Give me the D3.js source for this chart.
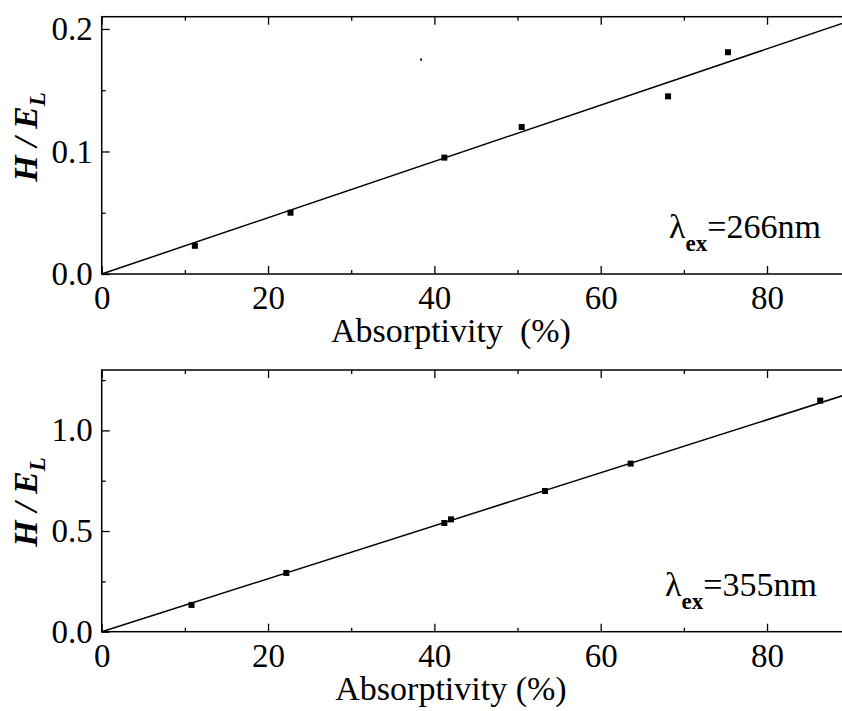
<!DOCTYPE html>
<html>
<head>
<meta charset="utf-8">
<script src="https://cdn.jsdelivr.net/npm/d3@7/dist/d3.min.js"></script>
<style>
  html, body { margin: 0; padding: 0; background: #fff; }
  svg { display: block; }
</style>
</head>
<body>
<svg id="chart" width="842" height="711"></svg>
<script>
// Absorptivity (%) vs. H/E_L for two excitation wavelengths
const absorb266 = [11.2, 22.7, 41.2, 50.5, 68.1, 75.3];
const ratio266  = [0.023, 0.050, 0.095, 0.120, 0.145, 0.181];
const stray266  = [[38.4, 0.175]];
const slope266  = 0.002297;

const absorb355 = [10.8, 22.2, 41.2, 42.0, 53.3, 63.6, 86.4];
const ratio355  = [0.133, 0.292, 0.540, 0.558, 0.699, 0.835, 1.148];
const slope355  = 0.01316;

const xTicks = [0, 20, 40, 60, 80];
const xMinor = [10, 30, 50, 70];
const yTicks266 = [0.0, 0.1, 0.2];
const yMinor266 = [0.05, 0.15];
const yTicks355 = [0.0, 0.5, 1.0];
const yMinor355 = [0.25, 0.75, 1.25];

const FONT = "'Liberation Serif', 'Times New Roman', Times, serif";
const svg = d3.select("#chart");

const panels = [
  {
    xs: absorb266, ys: ratio266, extra: stray266, slope: slope266,
    yDomain: [0, 0.21], top: 16.7, bottom: 274,
    yTicks: yTicks266, yMinor: yMinor266, yFmt: d3.format(".1f"),
    xLabel: "Absorptivity\u00a0\u00a0(%)", xLabelY: 342,
    yLabelY: 137, wl: "=266nm", wlX: 669, wlY: 238
  },
  {
    xs: absorb355, ys: ratio355, extra: [], slope: slope355,
    yDomain: [0, 1.3], top: 370.0, bottom: 631.7,
    yTicks: yTicks355, yMinor: yMinor355, yFmt: d3.format(".1f"),
    xLabel: "Absorptivity (%)", xLabelY: 700,
    yLabelY: 502, wl: "=355nm", wlX: 665, wlY: 596
  }
];

const left = 101.7, right = 850.2;
const x = d3.scaleLinear().domain([0, 90]).range([left, right]);

panels.forEach(p => {
  const y = d3.scaleLinear().domain(p.yDomain).range([p.bottom, p.top]);
  const g = svg.append("g");

  // frame (right edge lies beyond the canvas)
  g.append("rect")
    .attr("x", left).attr("y", p.top)
    .attr("width", right - left).attr("height", p.bottom - p.top)
    .attr("fill", "none").attr("stroke", "#000").attr("stroke-width", 1.5);

  // bottom axis: inward major + minor ticks, labels below
  g.append("g").attr("transform", `translate(0,${p.bottom})`)
    .call(d3.axisBottom(x).tickValues(xTicks).tickSizeInner(-8).tickSizeOuter(0).tickPadding(12));
  g.append("g").attr("transform", `translate(0,${p.bottom})`)
    .call(d3.axisBottom(x).tickValues(xMinor).tickSizeInner(-4).tickSizeOuter(0).tickFormat(""));
  // top mirrored ticks
  g.append("g").attr("transform", `translate(0,${p.top})`)
    .call(d3.axisTop(x).tickValues(xTicks).tickSizeInner(-8).tickSizeOuter(0).tickFormat(""));
  g.append("g").attr("transform", `translate(0,${p.top})`)
    .call(d3.axisTop(x).tickValues(xMinor).tickSizeInner(-4).tickSizeOuter(0).tickFormat(""));

  // left axis
  g.append("g").attr("transform", `translate(${left},0)`)
    .call(d3.axisLeft(y).tickValues(p.yTicks).tickFormat(p.yFmt).tickSizeInner(-8).tickSizeOuter(0).tickPadding(9));
  g.append("g").attr("transform", `translate(${left},0)`)
    .call(d3.axisLeft(y).tickValues(p.yMinor).tickSizeInner(-4).tickSizeOuter(0).tickFormat(""));

  g.selectAll(".domain").remove();
  g.selectAll(".tick line").attr("stroke", "#000").attr("stroke-width", 1.3);
  g.selectAll(".tick text").attr("fill", "#000")
    .style("font-family", FONT).style("font-size", "33px");

  // fitted line through origin
  const line = d3.line().x(d => x(d[0])).y(d => y(d[1]));
  g.append("path")
    .datum([[0, 0], [90, 90 * p.slope]])
    .attr("d", line)
    .attr("fill", "none").attr("stroke", "#000").attr("stroke-width", 1.5);

  // data points
  const pts = p.xs.map((v, i) => [v, p.ys[i]]);
  g.selectAll("rect.pt").data(pts).enter().append("rect")
    .attr("class", "pt")
    .attr("x", d => x(d[0]) - 3).attr("y", d => y(d[1]) - 3)
    .attr("width", 6).attr("height", 6).attr("fill", "#000");
  g.selectAll("rect.speck").data(p.extra).enter().append("rect")
    .attr("class", "speck")
    .attr("x", d => x(d[0]) - 1).attr("y", d => y(d[1]) - 1)
    .attr("width", 2).attr("height", 2).attr("fill", "#000");

  // x axis title
  g.append("text")
    .attr("x", 451).attr("y", p.xLabelY)
    .attr("text-anchor", "middle")
    .style("font-family", FONT).style("font-size", "34px")
    .text(p.xLabel);

  // y axis title H / E_L
  const yl = g.append("text")
    .attr("transform", `translate(37,${p.yLabelY}) rotate(-90)`)
    .attr("text-anchor", "middle")
    .style("font-family", FONT).style("font-size", "34px")
    .style("font-style", "italic").style("font-weight", "bold");
  yl.append("tspan").text("H / E");
  yl.append("tspan").style("font-size", "23px").attr("dy", 8).text("L");

  // excitation wavelength annotation
  const wl = g.append("text")
    .attr("x", p.wlX).attr("y", p.wlY)
    .style("font-family", FONT).style("font-size", "34px");
  wl.append("tspan").text("\u03bb");
  wl.append("tspan").style("font-size", "23px").style("font-weight", "bold")
    .attr("dy", 13).text("ex");
  wl.append("tspan").attr("dy", -13).text(p.wl);
});
</script>
</body>
</html>
